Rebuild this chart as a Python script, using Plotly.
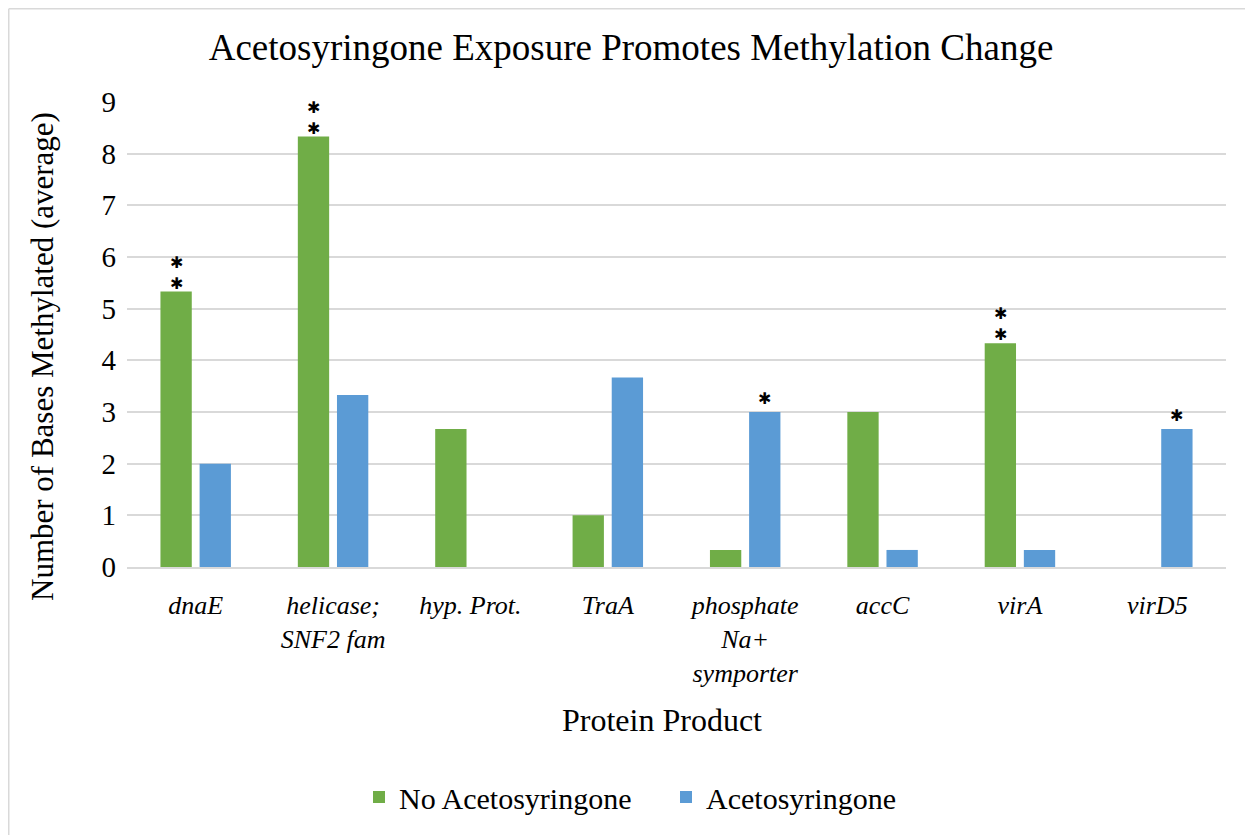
import plotly.graph_objects as go

categories = ["dnaE", "helicase;<br>SNF2 fam", "hyp. Prot.", "TraA",
              "phosphate<br>Na+<br>symporter", "accC", "virA", "virD5"]
no_aceto = [5.33, 8.33, 2.67, 1.0, 0.33, 3.0, 4.33, 0.0]
aceto = [2.0, 3.33, 0.0, 3.67, 3.0, 0.33, 0.33, 2.67]
no_aceto_stars = [2, 2, 0, 0, 0, 0, 2, 0]
aceto_stars = [0, 0, 0, 0, 1, 0, 0, 1]
y_ticks = [0, 1, 2, 3, 4, 5, 6, 7, 8, 9]

SERIF = "Liberation Serif, Times New Roman, serif"
GREEN = "#70ad47"
BLUE = "#5b9bd5"

W, H = 1253, 835
OFF = 8  # page body margin
# plot area in page pixels
PL, PR, PT, PB = 127, 1226, 102, 567
ml, mt = PL - OFF, PT - OFF
mr = W - (PR - OFF)
mb = H - (PB - OFF)
pw, ph = W - ml - mr, H - mt - mb


def fx(page_x):
    return (page_x - OFF - ml) / pw


def fy(page_y):
    return (H - mb - (page_y - OFF)) / ph


fig = go.Figure()
fig.add_trace(go.Bar(name="No Acetosyringone", x=categories, y=no_aceto,
                     marker=dict(color=GREEN, line=dict(width=0))))
fig.add_trace(go.Bar(name="Acetosyringone", x=categories, y=aceto,
                     marker=dict(color=BLUE, line=dict(width=0))))

annotations = []
slot_px = 19.5
for series, stars, dx in ((no_aceto, no_aceto_stars, -slot_px),
                          (aceto, aceto_stars, slot_px)):
    for cat, val, n in zip(categories, series, stars):
        if n == 0:
            continue
        annotations.append(dict(
            x=cat, y=val, xref="x", yref="y",
            text="<br>".join(["✱"] * n), showarrow=False,
            xshift=dx, yshift=(-3 if n == 2 else 2), yanchor="bottom",
            font=dict(family="DejaVu Sans", size=16, color="black")))

annotations.append(dict(
    text="Number of Bases Methylated (average)", textangle=-90,
    xref="paper", yref="paper", x=fx(42), y=fy(357),
    xanchor="center", yanchor="middle", showarrow=False,
    font=dict(family=SERIF, size=31, color="black")))
annotations.append(dict(
    text="Protein Product", xref="paper", yref="paper", x=fx(662), y=fy(720),
    xanchor="center", yanchor="middle", showarrow=False,
    font=dict(family=SERIF, size=32, color="black")))

fig.update_layout(
    width=W, height=H,
    margin=dict(l=ml, r=mr, t=mt, b=mb, autoexpand=False),
    paper_bgcolor="white", plot_bgcolor="white",
    barmode="group", bargap=0.43, bargroupgap=0.2,
    font=dict(family=SERIF, color="#000000"),
    title=dict(text="Acetosyringone Exposure Promotes Methylation Change",
               x=(631 - OFF) / W, xref="container", xanchor="center",
               y=1 - (47 - OFF) / H, yref="container", yanchor="middle",
               font=dict(family=SERIF, size=37, color="#000000")),
    xaxis=dict(tickfont=dict(family=SERIF, size=26, style="italic", color="#000000"),
               showline=True, linecolor="#d9d9d9", linewidth=1.5,
               ticks="", showgrid=False, ticklabelstandoff=14),
    yaxis=dict(range=[0, 9], tickvals=y_ticks, ticks="",
               tickfont=dict(family=SERIF, size=29, color="#000000"),
               showgrid=True, gridcolor="#d9d9d9", gridwidth=1.5,
               zeroline=False, showline=False, ticklabelstandoff=10),
    legend=dict(orientation="h", xref="container", x=(359 - OFF) / W, xanchor="left",
                yref="container", y=1 - (797 - OFF) / H, yanchor="middle",
                font=dict(family=SERIF, size=30), itemwidth=30, entrywidth=262,
                traceorder="normal"),
    annotations=annotations,
    shapes=[
        dict(type="line", xref="paper", yref="paper",
             x0=fx(8.75), x1=fx(8.75), y0=fy(2000), y1=fy(8.75),
             line=dict(color="#d9d9d9", width=1.5), layer="below"),
        dict(type="line", xref="paper", yref="paper",
             x0=fx(8.75), x1=fx(3000), y0=fy(8.75), y1=fy(8.75),
             line=dict(color="#d9d9d9", width=1.5), layer="below"),
    ],
)

fig.write_html("out.html")
